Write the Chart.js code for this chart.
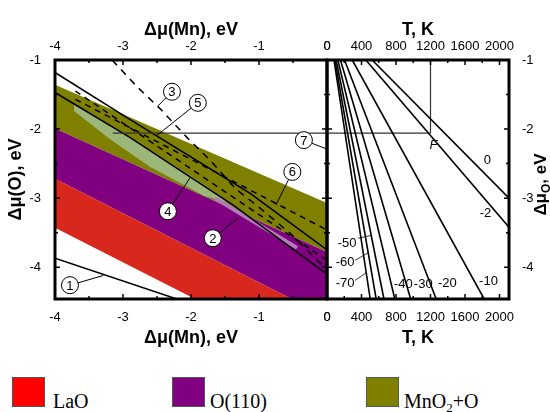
<!DOCTYPE html>
<html>
<head>
<meta charset="utf-8">
<script src="https://cdn.jsdelivr.net/npm/chart.js@4.4.1/dist/chart.umd.min.js"></script>
<style>
  body { margin: 0; background: #fff; width: 550px; height: 412px; overflow: hidden; position: relative; }
  canvas { position: absolute; left: 0; top: 0; }
  .swatch { position: absolute; top: 377px; width: 33px; height: 30px; box-sizing: border-box; border: 1px solid #555; }
  .lbl { position: absolute; top: 390px; line-height: 20px; font: 20px "Liberation Serif", "Times New Roman", serif; color: #000; white-space: nowrap; }
  .lbl sub { font-size: 13px; line-height: 0; vertical-align: -4px; }
</style>
</head>
<body>
<canvas id="phaseChart" width="550" height="350"></canvas>
<canvas id="tempChart" width="550" height="350"></canvas>
<div id="legend"></div>
<script>
// ---- data ----
const mnTicks = [-4, -3, -2, -1, 0];
const muTicks = [-1, -2, -3, -4];
const tTicks = [0, 400, 800, 1200, 1600, 2000];
const muMin = -4.46;

// stability regions, [Δμ(Mn), Δμ(O)] corners
const oliveRegion = [[-4, -1.36], [0, -3.07], [0, -3.78], [-4, -1.99]];
const purpleRegion = [[-4, -1.99], [0, -3.78], [0, -4.46], [-0.52, -4.46], [-4, -2.72]];
const laoRegion = [[-4, -2.72], [-0.52, -4.46], [-1.94, -4.46], [-4, -3.43]];
const paleGreenRegion = [[-3.72, -1.64], [-2.9, -2.12], [-2.0, -2.68], [-1.4, -3.08], [-1.8, -2.97], [-2.6, -2.55], [-3.2, -2.14], [-3.72, -1.74]];
const paleVioletStrip = [[-1.65, -3.0], [-0.44, -3.72]];

// boundary lines
const solidUpper = [[-4, -1.18], [-2.9, -1.86], [-1.13, -2.93], [0, -3.75]];
const solidLower = [[-4, -1.47], [-2.9, -2.12], [-1.38, -3.1], [0, -4.1]];
const dashUpper = [[-3.7, -1.57], [0, -3.46]];
const dashMid = [[-3.7, -1.45], [0, -3.9]];
const dashSteep = [[-3.16, -1.0], [-2.79, -1.39], [-2.46, -1.7], [-2.06, -2.12], [-1.72, -2.45], [-1.35, -2.86], [-0.99, -3.14], [-0.54, -3.51], [0, -4.04]];
const line1 = [[-4, -3.87], [-2.21, -4.46]];
const line7 = [[-3.15, -2.06], [0, -2.06]];

// numbered markers: circle centre and pointer tip
const markerIds = ["1", "2", "3", "4", "5", "6", "7"];
const markerAt = [[-3.78, -4.26], [-1.68, -3.58], [-2.28, -1.46], [-2.34, -3.19], [-1.9, -1.62], [-0.51, -2.62], [-0.34, -2.16]];
const markerTip = [[-3.29, -4.12], [-1.31, -3.29], [-2.49, -1.67], [-2.01, -2.7], [-2.5, -2.09], [-0.75, -3.1], [0, -2.29]];

// oxygen chemical potential vs T, one line per log(p)
const pressureLabels = ["0", "-2", "-10", "-20", "-30", "-40", "-50", "-60", "-70"];
const isobarStartT = [523, 450, 293, 203, 156, 126, 106, 92, 81];
const isobarEnd = [[2110, -3.0], [2110, -3.42], [1822, -4.46], [1266, -4.46], [970, -4.46], [786, -4.46], [660, -4.46], [570, -4.46], [501, -4.46]];
const pressureLabelAt = [[1860, -2.45], [1837, -3.22], [1872, -4.2], [1395, -4.23], [1116, -4.25], [884, -4.25], [233, -3.65], [209, -3.93], [209, -4.23]];
const leaderFrom = [null, null, null, null, null, null, [360, -3.58], [326, -3.9], [326, -4.19]];
const leaderTo = [null, null, null, null, null, null, [512, -3.54], [477, -3.79], [455, -4.08]];
const pointF = [1200, -2.06];

const legendLabels = ["LaO", "O(110)", "MnO<sub>2</sub>+O"];
const legendColors = ["#ff0000", "#800080", "#808000"];

// ---- helpers ----
const sans = '"Liberation Sans", Arial, sans-serif';
const toPts = (arr) => arr.map(([x, y]) => ({ x, y }));

function region(points, color, order) {
  return {
    data: toPts([...points, points[0]]),
    fill: "shape",
    backgroundColor: color,
    borderColor: "rgba(0,0,0,0)",
    borderWidth: 0,
    pointRadius: 0,
    order,
  };
}

function path(points, width, dash, color, order) {
  return {
    data: toPts(points),
    fill: false,
    borderColor: color || "#000",
    borderWidth: width,
    borderDash: dash || [],
    pointRadius: 0,
    order: order || 1,
  };
}

function axisX(pos, min, max, ticks, title, height) {
  const top = pos === "top";
  return {
    type: "linear",
    position: pos,
    min,
    max,
    afterBuildTicks: (s) => { s.ticks = ticks.map((v) => ({ value: v })); },
    afterFit: (s) => { s.height = height; },
    grid: { display: false },
    border: { display: false },
    ticks: { padding: top ? -2 : 3, color: "#000", font: { family: sans, size: 13 }, maxRotation: 0, autoSkip: false, callback: (v) => String(v) },
    title: {
      display: true,
      text: title,
      color: "#000",
      font: { family: sans, size: 18, weight: "bold" },
      padding: top ? { top: 19, bottom: 0 } : { top: 0, bottom: 1 },
    },
  };
}

function axisY(pos, width, title) {
  return {
    type: "linear",
    position: pos,
    min: muMin,
    max: -1,
    afterBuildTicks: (s) => { s.ticks = muTicks.map((v) => ({ value: v })); },
    afterFit: (s) => { s.width = width; },
    grid: { display: false },
    border: { display: false },
    ticks: { padding: pos === "left" ? 6 : 5, color: "#000", font: { family: sans, size: 13 }, callback: (v) => String(v) },
    title: {
      display: !!title,
      text: title,
      color: "#000",
      font: { family: sans, size: 18, weight: "bold" },
      padding: { top: 5, bottom: 0 },
    },
  };
}

// thick frame with inward ticks on all four sides
function framePlugin(xMajor, xStep) {
  return {
    id: "frame",
    afterDatasetsDraw(chart) {
      const { ctx, chartArea: a, scales } = chart;
      const xs = scales.x, ys = scales.y;
      ctx.save();
      ctx.strokeStyle = "#000";
      ctx.lineWidth = 1.5;
      ctx.beginPath();
      for (let v = xMajor[0]; v <= xs.max + 1e-9; v += xStep / 2) {
        const px = xs.getPixelForValue(v);
        const major = xMajor.some((m) => Math.abs(m - v) < 1e-6);
        const len = major ? 5 : 3;
        ctx.moveTo(px, a.top); ctx.lineTo(px, a.top + len);
        ctx.moveTo(px, a.bottom); ctx.lineTo(px, a.bottom - len);
      }
      for (let v = -1; v >= muMin; v -= 0.5) {
        const py = ys.getPixelForValue(v);
        const len = Number.isInteger(v) ? 5 : 3;
        ctx.moveTo(a.left, py); ctx.lineTo(a.left + len, py);
        ctx.moveTo(a.right, py); ctx.lineTo(a.right - len, py);
      }
      ctx.stroke();
      ctx.lineWidth = 3;
      ctx.strokeRect(a.left, a.top, a.right - a.left, a.bottom - a.top);
      ctx.restore();
    },
  };
}

const markerPlugin = {
  id: "markers",
  afterDatasetsDraw(chart) {
    const { ctx, scales } = chart;
    const r = 8.5;
    ctx.save();
    ctx.lineWidth = 1;
    ctx.strokeStyle = "#000";
    markerIds.forEach((id, i) => {
      const cx = scales.x.getPixelForValue(markerAt[i][0]);
      const cy = scales.y.getPixelForValue(markerAt[i][1]);
      const tx = scales.x.getPixelForValue(markerTip[i][0]);
      const ty = scales.y.getPixelForValue(markerTip[i][1]);
      const d = Math.hypot(tx - cx, ty - cy);
      ctx.beginPath();
      ctx.moveTo(cx + ((tx - cx) * r) / d, cy + ((ty - cy) * r) / d);
      ctx.lineTo(tx, ty);
      ctx.stroke();
      ctx.beginPath();
      ctx.arc(cx, cy, r, 0, Math.PI * 2);
      ctx.fillStyle = "#fff";
      ctx.fill();
      ctx.stroke();
      ctx.fillStyle = "#000";
      ctx.font = "13px " + sans;
      ctx.textAlign = "center";
      ctx.textBaseline = "middle";
      ctx.fillText(id, cx, cy + 1);
    });
    ctx.restore();
  },
};

const isobarLabelPlugin = {
  id: "isobarLabels",
  afterDatasetsDraw(chart) {
    const { ctx, scales } = chart;
    ctx.save();
    ctx.fillStyle = "#000";
    ctx.strokeStyle = "#000";
    ctx.lineWidth = 0.8;
    ctx.font = "13px " + sans;
    ctx.textAlign = "center";
    ctx.textBaseline = "middle";
    pressureLabels.forEach((lab, i) => {
      const [t, m] = pressureLabelAt[i];
      ctx.fillText(lab, scales.x.getPixelForValue(t), scales.y.getPixelForValue(m));
      if (leaderFrom[i]) {
        ctx.beginPath();
        ctx.moveTo(scales.x.getPixelForValue(leaderFrom[i][0]), scales.y.getPixelForValue(leaderFrom[i][1]));
        ctx.lineTo(scales.x.getPixelForValue(leaderTo[i][0]), scales.y.getPixelForValue(leaderTo[i][1]));
        ctx.stroke();
      }
    });
    ctx.font = "italic 13px " + sans;
    ctx.fillText("F", scales.x.getPixelForValue(pointF[0]) + 3, scales.y.getPixelForValue(pointF[1]) + 12);
    ctx.restore();
  },
  afterDraw(chart) {
    // right-hand axis title, reading bottom to top
    const { ctx, chartArea: a } = chart;
    const mid = (a.top + a.bottom) / 2 + 5;
    const big = "bold 17px " + sans, small = "bold 12px " + sans;
    ctx.save();
    ctx.translate(546, mid);
    ctx.rotate(-Math.PI / 2);
    ctx.fillStyle = "#000";
    ctx.textBaseline = "alphabetic";
    ctx.textAlign = "left";
    ctx.font = big;
    const w1 = ctx.measureText("Δμ").width, w3 = ctx.measureText(", eV").width;
    ctx.font = small;
    const w2 = ctx.measureText("O").width;
    let x = -(w1 + w2 + w3) / 2;
    ctx.font = big; ctx.fillText("Δμ", x, 0); x += w1;
    ctx.font = small; ctx.fillText("O", x, 4); x += w2;
    ctx.font = big; ctx.fillText(", eV", x, 0);
    ctx.restore();
  },
};

// ---- left panel: Δμ(O) vs Δμ(Mn) ----
new Chart(document.getElementById("phaseChart"), {
  type: "line",
  data: {
    datasets: [
      region(oliveRegion, "#808000", 20),
      region(purpleRegion, "#800080", 19),
      region(laoRegion, "#d8281e", 18),
      region(paleGreenRegion, "#9db679", 17),
      path(paleVioletStrip, 4, null, "#b27ab8", 16),
      path(line1, 1.5),
      path(line7, 1.2, null, "#333"),
      path(solidUpper, 1.6),
      path(solidLower, 1.6),
      path(dashUpper, 1.5, [6, 5]),
      path(dashMid, 1.5, [6, 5]),
      path(dashSteep, 1.5, [7, 6]),
    ],
  },
  options: {
    responsive: false,
    animation: false,
    devicePixelRatio: 1,
    layout: { padding: { left: 0, right: 223, top: 0, bottom: 0 } },
    plugins: { legend: { display: false }, tooltip: { enabled: false } },
    scales: {
      x: axisX("bottom", -4, 0, mnTicks, "Δμ(Mn), eV", 51),
      xTop: axisX("top", -4, 0, mnTicks, "Δμ(Mn), eV", 60),
      y: axisY("left", 55, "Δμ(O), eV"),
    },
  },
  plugins: [markerPlugin, framePlugin(mnTicks, 1)],
});

// ---- right panel: Δμ_O vs T ----
const isobarSets = pressureLabels.map((lab, i) =>
  path([[isobarStartT[i], -1], isobarEnd[i]], 1.6)
);

new Chart(document.getElementById("tempChart"), {
  type: "line",
  data: {
    datasets: [
      ...isobarSets,
      path([[0, pointF[1]], pointF], 1.2, null, "#333"),
      path([[pointF[0], -1], pointF], 1.2, null, "#333"),
    ],
  },
  options: {
    responsive: false,
    animation: false,
    devicePixelRatio: 1,
    layout: { padding: { left: 327, right: 0, top: 0, bottom: 0 } },
    plugins: { legend: { display: false }, tooltip: { enabled: false } },
    scales: {
      x: axisX("bottom", 0, 2110, tTicks, "T, K", 51),
      xTop: axisX("top", 0, 2110, tTicks, "T, K", 60),
      y: axisY("right", 41, ""),
    },
  },
  plugins: [isobarLabelPlugin, framePlugin(tTicks, 400)],
});

// ---- legend ----
const legendSwatchX = [12, 172, 366];
const legendTextX = [53, 210, 404];
const legend = document.getElementById("legend");
legendLabels.forEach((lab, i) => {
  const sw = document.createElement("div");
  sw.className = "swatch";
  sw.style.left = legendSwatchX[i] + "px";
  sw.style.background = legendColors[i];
  legend.appendChild(sw);
  const tx = document.createElement("div");
  tx.className = "lbl";
  tx.style.left = legendTextX[i] + "px";
  tx.innerHTML = lab;
  legend.appendChild(tx);
});
</script>
</body>
</html>
